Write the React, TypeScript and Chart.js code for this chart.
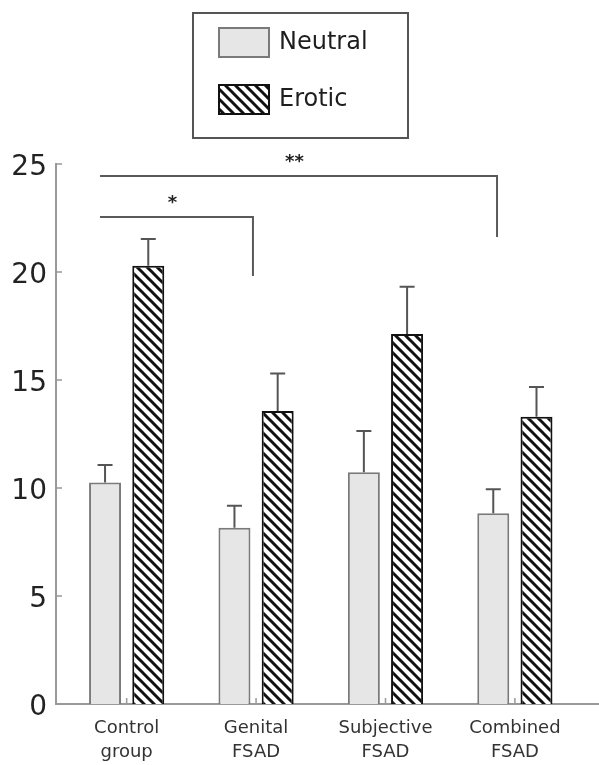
import React, { useEffect, useRef } from "react";
import { Chart, registerables } from "chart.js";

Chart.register(...registerables);

// ---- data ----
const categories: string[][] = [
  ["Control", "group"],
  ["Genital", "FSAD"],
  ["Subjective", "FSAD"],
  ["Combined", "FSAD"],
];
const groupPositions = [1, 2, 3, 4];
const neutralMeans = [10.25, 8.16, 10.73, 8.83];
const neutralSem = [0.81, 1.02, 1.91, 1.11];
const eroticMeans = [20.29, 13.56, 17.13, 13.3];
const eroticSem = [1.24, 1.74, 2.19, 1.38];
const seriesNames = ["Neutral", "Erotic"];
const yMin = 0;
const yMax = 25;
const yStep = 5;
// significance brackets in data units
const brackets = [
  { from: 0.794, to: 1.976, y: 22.55, drop: 19.81, label: "*" },
  { from: 0.794, to: 3.862, y: 24.44, drop: 21.62, label: "**" },
];

function makeHatch(): CanvasPattern | string {
  const s = 10;
  const c = document.createElement("canvas");
  c.width = s;
  c.height = s;
  const ctx = c.getContext("2d");
  if (!ctx) return "#fff";
  ctx.fillStyle = "#ffffff";
  ctx.fillRect(0, 0, s, s);
  ctx.strokeStyle = "#111111";
  ctx.lineWidth = 3;
  for (const k of [-1, 0, 1]) {
    ctx.beginPath();
    ctx.moveTo(k * s - 2, -2);
    ctx.lineTo(k * s + s + 2, s + 2);
    ctx.stroke();
  }
  const p = ctx.createPattern(c, "repeat");
  return p || "#fff";
}

const errorBarPlugin = {
  id: "errorBars",
  afterDatasetsDraw(chart: any) {
    const ctx = chart.ctx;
    const yScale = chart.scales.y;
    const sems = [neutralSem, eroticSem];
    const means = [neutralMeans, eroticMeans];
    ctx.save();
    ctx.strokeStyle = "#555555";
    ctx.lineWidth = 2;
    chart.data.datasets.forEach((_: any, di: number) => {
      const meta = chart.getDatasetMeta(di);
      meta.data.forEach((bar: any, i: number) => {
        const top = yScale.getPixelForValue(means[di][i] + sems[di][i]);
        ctx.beginPath();
        ctx.moveTo(bar.x, bar.y);
        ctx.lineTo(bar.x, top);
        ctx.moveTo(bar.x - 7.5, top);
        ctx.lineTo(bar.x + 7.5, top);
        ctx.stroke();
      });
    });
    ctx.restore();
  },
};

const decorPlugin = {
  id: "decor",
  afterDraw(chart: any) {
    const ctx = chart.ctx;
    const x = chart.scales.x;
    const y = chart.scales.y;
    const area = chart.chartArea;
    ctx.save();
    // inward ticks
    ctx.strokeStyle = "#999999";
    ctx.lineWidth = 1.5;
    y.ticks.forEach((t: any) => {
      const py = y.getPixelForValue(t.value);
      ctx.beginPath();
      ctx.moveTo(area.left, py);
      ctx.lineTo(area.left + 6, py);
      ctx.stroke();
    });
    x.ticks.forEach((t: any) => {
      const px = x.getPixelForValue(t.value);
      ctx.beginPath();
      ctx.moveTo(px, area.bottom);
      ctx.lineTo(px, area.bottom - 6);
      ctx.stroke();
    });
    // brackets
    ctx.strokeStyle = "#5a5a5a";
    ctx.lineWidth = 2;
    ctx.fillStyle = "#222";
    ctx.font = "bold 18px 'DejaVu Sans'";
    ctx.textAlign = "center";
    ctx.textBaseline = "alphabetic";
    brackets.forEach((b) => {
      const x0 = x.getPixelForValue(b.from);
      const x1 = x.getPixelForValue(b.to);
      const py = y.getPixelForValue(b.y);
      const pd = y.getPixelForValue(b.drop);
      ctx.beginPath();
      ctx.moveTo(x0, py);
      ctx.lineTo(x1, py);
      ctx.lineTo(x1, pd);
      ctx.stroke();
      ctx.fillText(b.label, (x0 + x1) / 2 - 4, py - 9);
    });
    // legend
    const bx = 193, by = 13, bw = 215, bh = 125;
    ctx.strokeStyle = "#555555";
    ctx.lineWidth = 2;
    ctx.strokeRect(bx, by, bw, bh);
    ctx.font = "24px 'DejaVu Sans'";
    ctx.textAlign = "left";
    ctx.textBaseline = "middle";
    chart.data.datasets.forEach((ds: any, i: number) => {
      const sy = 28 + i * 57;
      ctx.fillStyle = ds.backgroundColor;
      ctx.fillRect(219, sy, 50, 29);
      ctx.strokeStyle = ds.borderColor;
      ctx.lineWidth = 2;
      ctx.strokeRect(219, sy, 50, 29);
      ctx.fillStyle = "#1e1e1e";
      ctx.fillText(ds.label, 279, sy + 15);
    });
    ctx.restore();
  },
};

export default function App() {
  const ref = useRef<HTMLCanvasElement>(null);
  useEffect(() => {
    if (!ref.current) return;
    const hatch = makeHatch();
    const chart = new Chart(ref.current, {
      type: "bar",
      data: {
        datasets: [
          {
            label: seriesNames[0],
            data: groupPositions.map((p, i) => ({ x: p, y: neutralMeans[i] })),
            backgroundColor: "#e6e6e6",
            borderColor: "#7a7a7a",
            borderWidth: 2,
          },
          {
            label: seriesNames[1],
            data: groupPositions.map((p, i) => ({ x: p, y: eroticMeans[i] })),
            backgroundColor: hatch as any,
            borderColor: "#111111",
            borderWidth: 2,
          },
        ],
      },
      options: {
        responsive: false,
        animation: false,
        categoryPercentage: 0.668,
        barPercentage: 0.74,
        layout: { padding: { top: 164, right: 0, left: 0, bottom: 0 } },
        plugins: {
          legend: { display: false },
          tooltip: { enabled: false },
          title: { display: false },
        },
        scales: {
          x: {
            type: "linear",
            offset: false,
            min: 0.454,
            max: 4.65,
            grid: { display: false, drawTicks: false, offset: false },
            border: { display: true, color: "#999999", width: 2 },
            ticks: {
              stepSize: 1,
              includeBounds: false,
              autoSkip: false,
              maxRotation: 0,
              padding: 12,
              color: "#333333",
              font: { family: "'DejaVu Sans'", size: 18, lineHeight: 1.33 },
              callback: (v: any) => categories[Math.round(Number(v)) - 1] ?? "",
            },
            afterFit: (s: any) => {
              s.height = 61;
            },
          },
          y: {
            min: yMin,
            max: yMax,
            grid: { display: false, drawTicks: false },
            border: { display: true, color: "#999999", width: 2 },
            ticks: {
              stepSize: yStep,
              padding: 9,
              labelOffset: 4,
              color: "#222222",
              font: { family: "'DejaVu Sans'", size: 28 },
            },
            afterFit: (s: any) => {
              s.width = 56;
            },
          },
        },
      },
      plugins: [errorBarPlugin, decorPlugin],
    });
    return () => chart.destroy();
  }, []);
  return (
    <div style={{ position: "fixed", left: 0, top: 0, width: 599, height: 765, background: "#fff" }}>
      <canvas ref={ref} width={599} height={765} style={{ display: "block" }} />
    </div>
  );
}
